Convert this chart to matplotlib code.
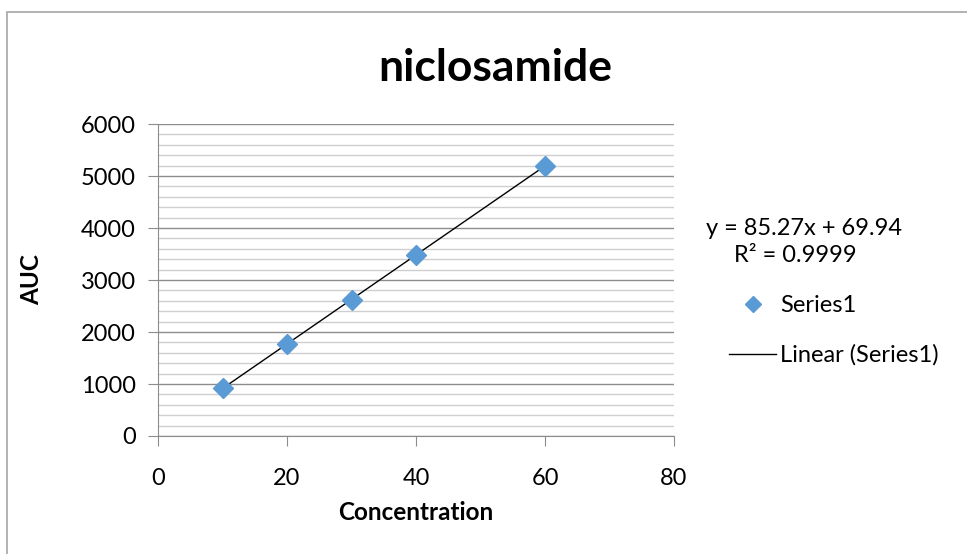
import numpy as np
import matplotlib.pyplot as plt
from matplotlib.lines import Line2D
from matplotlib.patches import Rectangle

plt.rcParams['font.family'] = ['Lato', 'DejaVu Sans']

# ---- Data ----
concentration = [10, 20, 30, 40, 60]
auc = [920, 1770, 2620, 3480, 5200]
eq_text = "y = 85.27x + 69.94"
r2_text = "R² = 0.9999"

# ---- Trendline ----
slope, intercept = np.polyfit(concentration, auc, 1)
x_fit = np.array([min(concentration), max(concentration)])
y_fit = slope * x_fit + intercept

fig = plt.figure(figsize=(9.67, 5.54), dpi=100)
ax = fig.add_axes([0.1634, 0.213, 0.5336, 0.563])

ax.set_xlim(0, 80)
ax.set_ylim(0, 6000)
ax.set_xticks(np.arange(0, 81, 20))
ax.set_yticks(np.arange(0, 6001, 1000))
ax.set_yticks(np.arange(0, 6001, 200), minor=True)

ax.grid(axis='y', which='major', color='#8c8c8c', linewidth=1.0)
ax.grid(axis='y', which='minor', color='#cfcfcf', linewidth=1.0)
ax.set_axisbelow(True)

for s in ['top', 'right']:
    ax.spines[s].set_visible(False)
for s in ['left', 'bottom']:
    ax.spines[s].set_color('#8c8c8c')
ax.tick_params(axis='both', which='major', color='#8c8c8c', length=7, labelsize=17)
ax.tick_params(axis='y', which='minor', length=0)
ax.tick_params(axis='y', which='major', pad=9)
ax.tick_params(axis='x', which='major', pad=16)

ax.plot(x_fit, y_fit, color='black', linewidth=1.0, zorder=3)
ax.plot(concentration, auc, linestyle='none', marker='D', markersize=10,
        color='#5b9bd5', zorder=4)

ax.set_xlabel("Concentration", fontsize=17.5, fontweight='bold')
ax.set_ylabel("AUC", fontsize=17.5, fontweight='bold')
ax.xaxis.label.set_va('center')
ax.yaxis.label.set_va('center')
ax.xaxis.set_label_coords(0.5, -0.245)
ax.yaxis.set_label_coords(-0.244, 0.5)

fig.text(0.512, 0.877, "niclosamide", ha='center', va='center',
         fontsize=32, fontweight='bold')

# ---- Legend area ----
fig.text(706 / 967, 1 - 228 / 554, eq_text, fontsize=17, va='center')
fig.text(734 / 967, 1 - 256 / 554, r2_text, fontsize=17, va='center')
handles = [Line2D([], [], linestyle='none', marker='D', markersize=8, color='#5b9bd5'),
           Line2D([], [], color='black', linewidth=1.0)]
fig.legend(handles, ["Series1", "Linear (Series1)"], loc='upper left',
           bbox_to_anchor=(729 / 967, 1 - 295 / 554), frameon=False, fontsize=17,
           handlelength=2.0, labelspacing=1.2, handletextpad=0.15,
           borderpad=0, borderaxespad=0)

# outer chart border
fig.patches.append(Rectangle((7 / 967, -0.1), 1.1, 1 - 12 / 554 + 0.1,
                             transform=fig.transFigure, fill=False,
                             edgecolor='#a6a6a6', linewidth=1.2))

fig.savefig("out.png", dpi=100)
